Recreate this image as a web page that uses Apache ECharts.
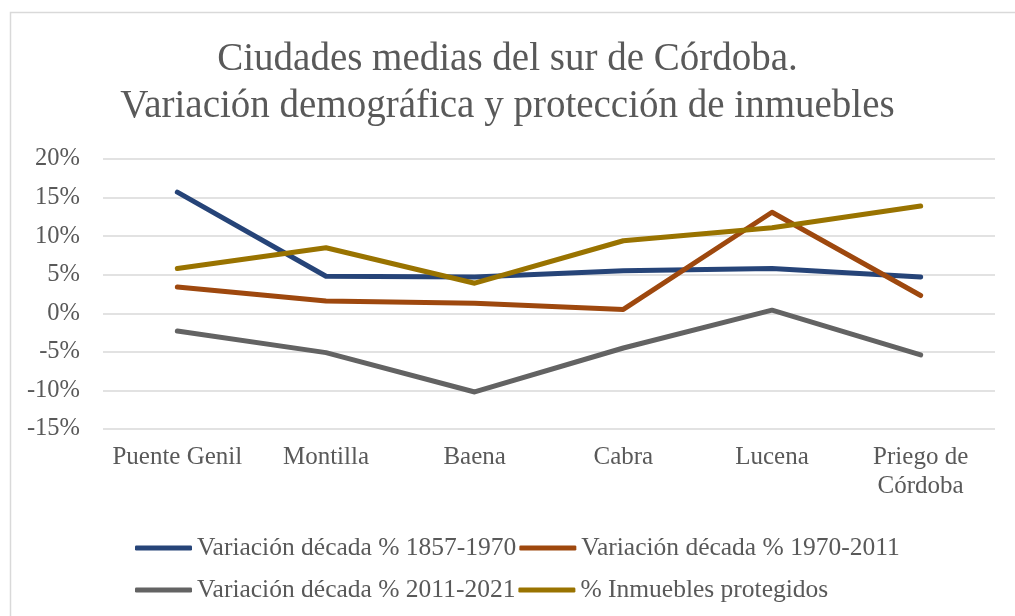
<!DOCTYPE html>
<html>
<head>
<meta charset="utf-8">
<script src="https://cdn.jsdelivr.net/npm/echarts@6/dist/echarts.min.js"></script>
<style>
  html, body { margin: 0; padding: 0; background: #ffffff; }
  #chart { width: 1015px; height: 616px; }
</style>
</head>
<body>
<div id="chart"></div>
<script>
// Cities of southern Córdoba: decade population change and protected buildings (%)
const categories = ['Puente Genil', 'Montilla', 'Baena', 'Cabra', 'Lucena', 'Priego de\nCórdoba'];
const seriesNames = [
  'Variación década % 1857-1970',
  'Variación década % 1970-2011',
  'Variación década % 2011-2021',
  '% Inmuebles protegidos'
];
const var1857_1970 = [15.7, 4.8, 4.7, 5.5, 5.8, 4.7];
const var1970_2011 = [3.4, 1.6, 1.3, 0.5, 13.1, 2.3];
const var2011_2021 = [-2.3, -5.1, -10.2, -4.5, 0.4, -5.4];
const inmueblesProtegidos = [5.8, 8.5, 3.9, 9.4, 11.1, 13.9];
const yTicks = { min: -15, max: 20, step: 5 };

const colors = ['#264478', '#9E480E', '#636363', '#997300'];
const values = [var1857_1970, var1970_2011, var2011_2021, inmueblesProtegidos];
const FONT = '"Liberation Serif", "Times New Roman", serif';
const TEXT = '#595959';

const chart = echarts.init(document.getElementById('chart'), null, { renderer: 'canvas' });

const legendBase = {
  left: 130,
  itemWidth: 57,
  itemHeight: 5,
  itemGap: 3,
  icon: 'roundRect',
  textStyle: { fontFamily: FONT, fontSize: 25.5, color: TEXT, lineHeight: 28 }
};

chart.setOption({
  backgroundColor: '#ffffff',
  animation: false,
  color: colors,
  graphic: [{
    type: 'rect',
    left: 8, top: 10,
    shape: { width: 1030, height: 640 },
    style: { fill: 'none', stroke: '#d9d9d9', lineWidth: 1.5 },
    silent: true
  }],
  title: {
    text: 'Ciudades medias del sur de Córdoba.\nVariación demográfica y protección de inmuebles',
    left: 'center',
    top: 31,
    textStyle: { fontFamily: FONT, fontSize: 39, fontWeight: 'normal', color: TEXT, lineHeight: 47 }
  },
  legend: [
    Object.assign({ top: 529, data: seriesNames.slice(0, 2) }, legendBase),
    Object.assign({ top: 571, data: seriesNames.slice(2, 4) }, legendBase)
  ],
  grid: { left: 103, right: 20, top: 159, bottom: 187, containLabel: false },
  xAxis: {
    type: 'category',
    data: categories,
    boundaryGap: true,
    axisLine: { show: false },
    axisTick: { show: false },
    axisLabel: {
      fontFamily: FONT, fontSize: 25, color: TEXT, margin: 14,
      lineHeight: 29, interval: 0
    }
  },
  yAxis: {
    type: 'value',
    min: yTicks.min,
    max: yTicks.max,
    interval: yTicks.step,
    axisLine: { show: false },
    axisTick: { show: false },
    axisLabel: {
      fontFamily: FONT, fontSize: 24.5, color: TEXT, margin: 23,
      formatter: '{value}%'
    },
    splitLine: { lineStyle: { color: '#d9d9d9', width: 1.5 } }
  },
  series: seriesNames.map((name, i) => ({
    name: name,
    type: 'line',
    data: values[i],
    showSymbol: false,
    symbol: 'none',
    lineStyle: { width: 5, color: colors[i], cap: 'round', join: 'round' },
    itemStyle: { color: colors[i] }
  }))
});
</script>
</body>
</html>
